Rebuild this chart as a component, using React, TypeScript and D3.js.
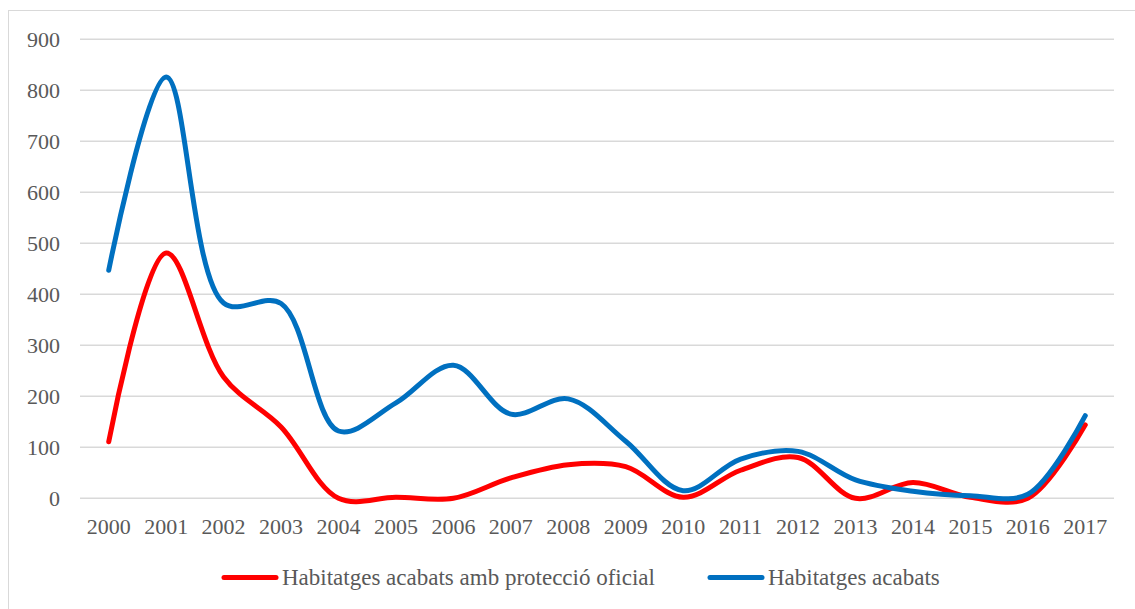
import * as d3 from "d3";

const years = ["2000", "2001", "2002", "2003", "2004", "2005", "2006", "2007", "2008", "2009", "2010", "2011", "2012", "2013", "2014", "2015", "2016", "2017"];
const protegits = [111, 481, 238, 140, 0, 2, 0, 40, 66, 62, 2, 55, 80, 0, 31, 2, 0, 144];
const acabats = [447, 826, 383, 382, 132, 187, 261, 165, 195, 112, 15, 77, 92, 36, 14, 5, 8, 162];
const yTicks = [0, 100, 200, 300, 400, 500, 600, 700, 800, 900];

const seriesNames = ["Habitatges acabats amb protecció oficial", "Habitatges acabats"];
const seriesColors = ["#ff0000", "#0070c0"];

export default function App() {
  const width = 1135;
  const height = 609;
  const plotLeft = 80;
  const plotRight = 1114;
  const plotTop = 39.3;
  const plotBottom = 498.3;
  const font = "'Liberation Serif', 'Times New Roman', serif";

  const x = d3.scaleBand().domain(years).range([plotLeft, plotRight]);
  const y = d3.scaleLinear().domain([0, 900]).range([plotBottom, plotTop]);

  const line = d3
    .line<number>()
    .x((d, i) => x(years[i])! + x.bandwidth() / 2)
    .y((d) => y(d))
    .curve(d3.curveCatmullRom.alpha(0.5));

  const series = [protegits, acabats];

  return (
    <svg width={width} height={height} style={{ position: "absolute", left: 0, top: 0, background: "#fff" }}>
      <rect x={8.5} y={10.5} width={1140} height={620} fill="#fff" stroke="#d9d9d9" strokeWidth={1} />
      {yTicks.map((t) => (
        <g key={t}>
          <line x1={plotLeft} x2={plotRight} y1={y(t)} y2={y(t)} stroke="#d9d9d9" strokeWidth={1.5} />
          <text x={60} y={y(t) + 7.5} textAnchor="end" fontFamily={font} fontSize={22} fill="#595959">
            {t}
          </text>
        </g>
      ))}
      {years.map((yr) => (
        <text key={yr} x={x(yr)! + x.bandwidth() / 2} y={534} textAnchor="middle" fontFamily={font} fontSize={22} fill="#595959">
          {yr}
        </text>
      ))}
      {series.map((s, i) => (
        <path key={i} d={line(s)!} fill="none" stroke={seriesColors[i]} strokeWidth={5} strokeLinecap="round" strokeLinejoin="round" />
      ))}
      {/* legend */}
      {[222, 708].map((lx, i) => (
        <g key={i}>
          <line x1={lx + 2} x2={lx + 54} y1={577.5} y2={577.5} stroke={seriesColors[i]} strokeWidth={5} strokeLinecap="round" />
          <text x={lx + 60} y={585} fontFamily={font} fontSize={23} fill="#595959">
            {seriesNames[i]}
          </text>
        </g>
      ))}
    </svg>
  );
}
